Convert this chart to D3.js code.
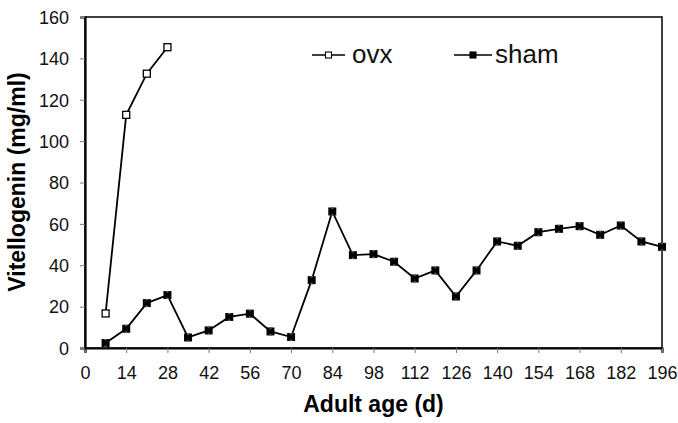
<!DOCTYPE html>
<html lang="en">
<head>
<meta charset="UTF-8">
<title>Vitellogenin</title>
<script src="https://cdn.jsdelivr.net/npm/d3@7"></script>
<style>
    body { margin: 0; background: #fff; }
    svg { font-family: Arial, "Liberation Sans", sans-serif; }
</style>
</head>
<body>
<div id="fig"></div>
<script>
    var width = 678, height = 423;

    // data
    const xTicks = [0, 14, 28, 42, 56, 70, 84, 98, 112, 126, 140, 154, 168, 182, 196];
    const yTicks = [0, 20, 40, 60, 80, 100, 120, 140, 160];

    const ovxDays = [7, 14, 21, 28];
    const ovxValues = [16.7, 112.7, 132.6, 145.4];

    const shamDays = [7, 14, 21, 28, 35, 42, 49, 56, 63, 70, 77, 84, 91, 98, 105, 112, 119, 126,
        133, 140, 147, 154, 161, 168, 175, 182, 189, 196];
    const shamValues = [2.4, 9.3, 21.7, 25.6, 5.1, 8.5, 15.0, 16.6, 8.0, 5.3, 32.8, 66.0, 44.9, 45.4, 41.7, 33.6, 37.5, 24.9,
        37.5, 51.5, 49.4, 56.0, 57.6, 58.9, 54.7, 59.2, 51.5, 48.9];

    var margin = {top: 17, right: 16, bottom: 75, left: 85};

    var svg = d3.select("#fig").append("svg")
        .attr("width", width)
        .attr("height", height);

    var x = d3.scaleLinear()
        .domain([0, 196])
        .range([margin.left, width - margin.right]);
    var y = d3.scaleLinear()
        .domain([0, 160])
        .range([height - margin.bottom, margin.top]);

    // plot frame
    svg.append("rect")
        .attr("x", x(0))
        .attr("y", y(160))
        .attr("width", x(196) - x(0))
        .attr("height", y(0) - y(160))
        .attr("fill", "none")
        .attr("stroke", "black")
        .attr("stroke-width", 1.5);

    var xAxis = svg.append("g")
        .attr("transform", "translate(0," + y(0) + ")")
        .call(d3.axisBottom(x).tickValues(xTicks).tickSize(5).tickPadding(13));
    var yAxis = svg.append("g")
        .attr("transform", "translate(" + x(0) + ",0)")
        .call(d3.axisLeft(y).tickValues(yTicks).tickSize(5).tickPadding(11));

    [xAxis, yAxis].forEach(function (g) {
        g.select(".domain").attr("stroke-width", 2.2);
        g.selectAll(".tick line").attr("stroke", "#777").attr("stroke-width", 1);
        g.selectAll("text")
            .attr("font-family", "Arial, 'Liberation Sans', sans-serif")
            .attr("font-size", 18)
            .attr("fill", "#111");
    });
    yAxis.selectAll("text").attr("dy", "0.35em");

    // axis titles
    svg.append("text")
        .attr("x", (x(0) + x(196)) / 2)
        .attr("y", 412)
        .attr("text-anchor", "middle")
        .attr("font-size", 23)
        .attr("font-weight", "bold")
        .text("Adult age (d)");

    svg.append("text")
        .attr("transform", "translate(25," + 182 + ") rotate(-90)")
        .attr("text-anchor", "middle")
        .attr("font-size", 23)
        .attr("font-weight", "bold")
        .text("Vitellogenin (mg/ml)");

    var line = d3.line()
        .x(function (d) { return x(d[0]); })
        .y(function (d) { return y(d[1]); });

    var ovx = d3.zip(ovxDays, ovxValues);
    var sham = d3.zip(shamDays, shamValues);

    svg.append("path")
        .datum(sham)
        .attr("fill", "none")
        .attr("stroke", "black")
        .attr("stroke-width", 1.8)
        .attr("d", line);

    svg.append("path")
        .datum(ovx)
        .attr("fill", "none")
        .attr("stroke", "black")
        .attr("stroke-width", 1.8)
        .attr("d", line);

    // sham markers: filled square with a bow-tie notch look
    svg.append("g").selectAll("path")
        .data(sham)
        .join("path")
        .attr("transform", function (d) { return "translate(" + x(d[0]) + "," + y(d[1]) + ")"; })
        .attr("d", "M-4,-4 L4,-4 L4,4 L-4,4 Z")
        .attr("fill", "black");
    svg.append("g").selectAll("path")
        .data(sham)
        .join("path")
        .attr("transform", function (d) { return "translate(" + x(d[0]) + "," + y(d[1]) + ")"; })
        .attr("d", "M-2,-4 L0,-2 L2,-4 Z M-2,4 L0,2 L2,4 Z")
        .attr("fill", "#555");

    var so = 7;
    svg.append("g").selectAll("rect")
        .data(ovx)
        .join("rect")
        .attr("x", function (d) { return x(d[0]) - so / 2; })
        .attr("y", function (d) { return y(d[1]) - so / 2; })
        .attr("width", so)
        .attr("height", so)
        .attr("fill", "white")
        .attr("stroke", "black")
        .attr("stroke-width", 1.3);

    // legend
    var legend = [
        {name: "ovx", x1: 312, x2: 345, tx: 352, fill: "white"},
        {name: "sham", x1: 454, x2: 492, tx: 495, fill: "black"}
    ];
    var ly = 55;
    legend.forEach(function (l) {
        svg.append("line")
            .attr("x1", l.x1).attr("x2", l.x2)
            .attr("y1", ly).attr("y2", ly)
            .attr("stroke", "black")
            .attr("stroke-width", 1.6);
        var cx = (l.x1 + l.x2) / 2;
        svg.append("rect")
            .attr("x", cx - 3).attr("y", ly - 3)
            .attr("width", 6).attr("height", 6)
            .attr("fill", l.fill)
            .attr("stroke", "black")
            .attr("stroke-width", 1.1);
        svg.append("text")
            .attr("x", l.tx)
            .attr("y", ly + 8)
            .attr("font-size", 26)
            .attr("fill", "#111")
            .text(l.name);
    });
</script>
</body>
</html>
